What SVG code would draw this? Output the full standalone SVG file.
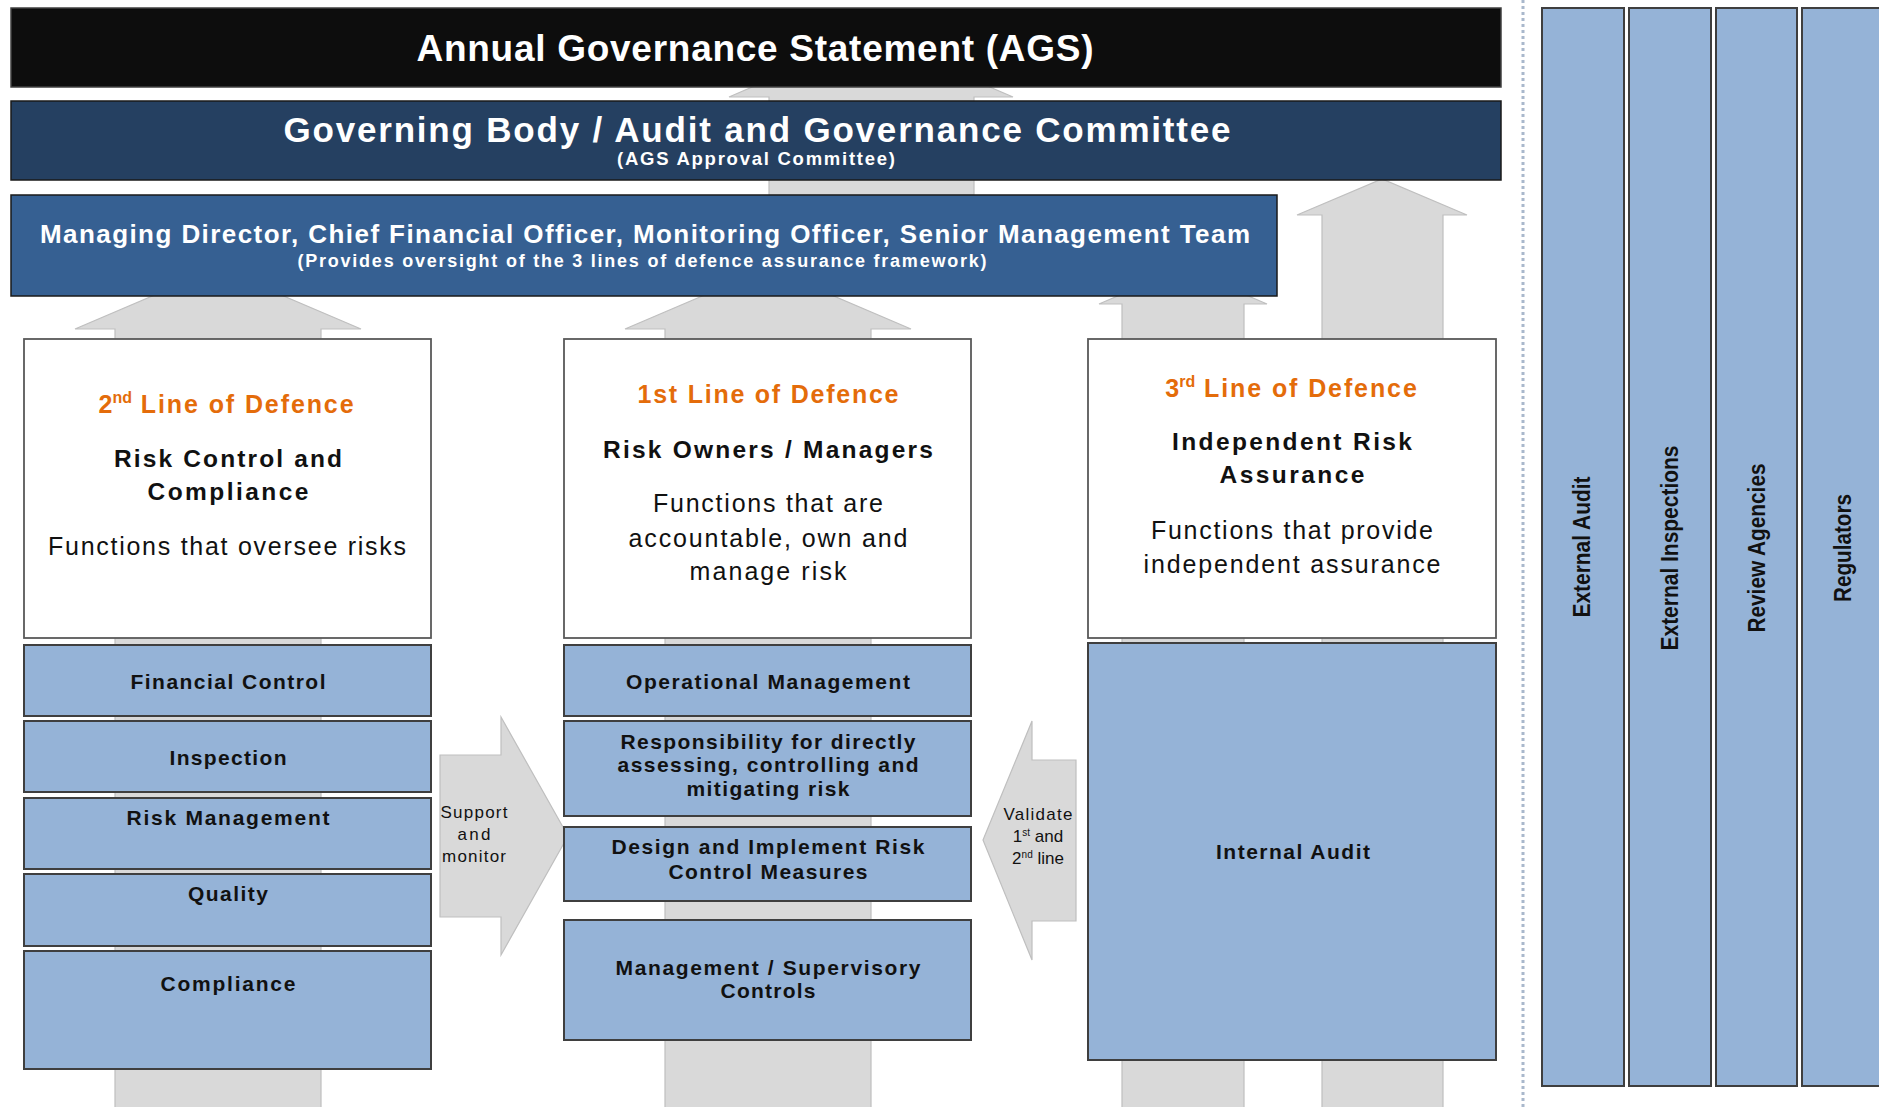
<svg xmlns="http://www.w3.org/2000/svg" width="1879" height="1107" viewBox="0 0 1879 1107">
<style>
text{font-family:"Liberation Sans",Arial,sans-serif;}
.arrow{fill:#d9d9d9;stroke:#bfbfbf;stroke-width:1.2;}
.blue{fill:#95b3d7;stroke:#3f3f3f;stroke-width:2;}
.white{fill:#ffffff;stroke:#595959;stroke-width:1.8;}
.bt{font-weight:bold;font-size:21px;fill:#111;text-anchor:middle;}
.org{font-weight:bold;font-size:25px;fill:#e46c0a;text-anchor:middle;}
.hd{font-weight:bold;font-size:24.5px;fill:#111;text-anchor:middle;}
.fn{font-size:25px;fill:#111;text-anchor:middle;}
.sm{font-size:17px;fill:#111;text-anchor:middle;}
.vt{font-weight:bold;font-size:23px;fill:#111;text-anchor:middle;}
.wt{font-weight:bold;fill:#fff;text-anchor:middle;}
</style>
<rect width="1879" height="1107" fill="#ffffff"/>
<g id="connectors">
<path class="arrow" d="M729,97 L871,36 L1013,97 L974,97 L974,195 L769,195 L769,97 Z"/>
<path class="arrow" d="M75,329 L218,268 L361,329 L321,329 L321,1108 L115,1108 L115,329 Z"/>
<path class="arrow" d="M625,329 L768,268 L911,329 L871,329 L871,1108 L665,1108 L665,329 Z"/>
<path class="arrow" d="M1099,304 L1183,268 L1267,304 L1244,304 L1244,1108 L1122,1108 L1122,304 Z"/>
<path class="arrow" d="M1297,215 L1382,179 L1467,215 L1443,215 L1443,1108 L1322,1108 L1322,215 Z"/>
<path class="arrow" d="M440,755 L501,755 L501,717 L568,836 L501,955 L501,917 L440,917 Z"/>
<path class="arrow" d="M1076,760 L1032,760 L1032,721 L983,840 L1032,960 L1032,921 L1076,921 Z"/>
<text class="sm" x="474" y="818" textLength="67">Support</text>
<text class="sm" x="474" y="840" textLength="33">and</text>
<text class="sm" x="474" y="862" textLength="64">monitor</text>
<text class="sm" x="1038" y="820" textLength="69">Validate</text>
<text class="sm" x="1038" y="842">1<tspan font-size="10" dy="-6">st</tspan><tspan dy="6"> and</tspan></text>
<text class="sm" x="1038" y="864">2<tspan font-size="10" dy="-6">nd</tspan><tspan dy="6"> line</tspan></text>
</g>
<line x1="1523" y1="0" x2="1523" y2="1107" stroke="#a9b8cc" stroke-width="3" stroke-dasharray="3 3"/>
<g id="ags">
<rect x="11" y="8" width="1490" height="79" fill="#0d0d0d" stroke="#404040" stroke-width="1.5"/>
<text class="wt" x="755" y="61" font-size="37" textLength="677">Annual Governance Statement (AGS)</text>
</g>
<g id="governing-body">
<rect x="11" y="101" width="1490" height="79" fill="#254061" stroke="#1a1a1a" stroke-width="1.5"/>
<text class="wt" x="757" y="142" font-size="35" textLength="947">Governing Body / Audit and Governance Committee</text>
<text class="wt" x="756" y="165" font-size="18.5" textLength="278">(AGS Approval Committee)</text>
</g>
<g id="management-team">
<rect x="11" y="195" width="1266" height="101" fill="#366092" stroke="#1a1a1a" stroke-width="1.5"/>
<text class="wt" x="645" y="243" font-size="26" textLength="1210">Managing Director, Chief Financial Officer, Monitoring Officer, Senior Management Team</text>
<text class="wt" x="642" y="267" font-size="18" textLength="689">(Provides oversight of the 3 lines of defence assurance framework)</text>
</g>
<g id="second-line">
<rect class="white" x="24" y="339" width="407" height="299"/>
<text class="org" x="227" y="413">2<tspan font-size="16" dy="-10">nd</tspan><tspan dy="10" letter-spacing="1.9"> Line of Defence</tspan></text>
<text class="hd" x="228" y="467" textLength="228">Risk Control and</text>
<text class="hd" x="228" y="500" textLength="161">Compliance</text>
<text class="fn" x="227" y="555" textLength="358">Functions that oversee risks</text>
</g>
<g id="financial-control"><rect class="blue" x="24" y="645" width="407" height="71"/><text class="bt" x="228" y="689" textLength="195">Financial Control</text></g>
<g id="inspection"><rect class="blue" x="24" y="721" width="407" height="71"/><text class="bt" x="228" y="765" textLength="117">Inspection</text></g>
<g id="risk-management"><rect class="blue" x="24" y="798" width="407" height="71"/><text class="bt" x="228" y="825" textLength="203">Risk Management</text></g>
<g id="quality"><rect class="blue" x="24" y="874" width="407" height="72"/><text class="bt" x="228" y="901" textLength="80">Quality</text></g>
<g id="compliance"><rect class="blue" x="24" y="951" width="407" height="118"/><text class="bt" x="228" y="991" textLength="135">Compliance</text></g>
<g id="first-line">
<rect class="white" x="564" y="339" width="407" height="299"/>
<text class="org" x="768" y="403" textLength="261">1st Line of Defence</text>
<text class="hd" x="768" y="458" textLength="330">Risk Owners / Managers</text>
<text class="fn" x="768" y="512" textLength="230">Functions that are</text>
<text class="fn" x="768" y="547" textLength="279">accountable, own and</text>
<text class="fn" x="768" y="580" textLength="157">manage risk</text>
</g>
<g id="operational-management"><rect class="blue" x="564" y="645" width="407" height="71"/><text class="bt" x="768" y="689" textLength="284">Operational Management</text></g>
<g id="responsibility"><rect class="blue" x="564" y="721" width="407" height="95"/>
<text class="bt" x="768" y="749" textLength="295">Responsibility for directly</text>
<text class="bt" x="768" y="772" textLength="301">assessing, controlling and</text>
<text class="bt" x="768" y="796" textLength="163">mitigating risk</text></g>
<g id="design-implement"><rect class="blue" x="564" y="827" width="407" height="74"/>
<text class="bt" x="768" y="854" textLength="313">Design and Implement Risk</text>
<text class="bt" x="768" y="879" textLength="199">Control Measures</text></g>
<g id="supervisory-controls"><rect class="blue" x="564" y="920" width="407" height="120"/>
<text class="bt" x="768" y="975" textLength="305">Management / Supervisory</text>
<text class="bt" x="768" y="998" textLength="95">Controls</text></g>
<g id="third-line">
<rect class="white" x="1088" y="339" width="408" height="299"/>
<text class="org" x="1292" y="397">3<tspan font-size="16" dy="-10">rd</tspan><tspan dy="10" letter-spacing="1.9"> Line of Defence</tspan></text>
<text class="hd" x="1292" y="450" textLength="240">Independent Risk</text>
<text class="hd" x="1292" y="483" textLength="145">Assurance</text>
<text class="fn" x="1292" y="539" textLength="282">Functions that provide</text>
<text class="fn" x="1292" y="573" textLength="297">independent assurance</text>
</g>
<g id="internal-audit"><rect class="blue" x="1088" y="643" width="408" height="417"/><text class="bt" x="1293" y="859" textLength="154">Internal Audit</text></g>
<g id="external-audit"><rect class="blue" x="1542" y="8" width="82" height="1078"/><text class="vt" transform="translate(1582,547) rotate(-90)" x="0" y="8" textLength="141" lengthAdjust="spacingAndGlyphs">External Audit</text></g>
<g id="external-inspections"><rect class="blue" x="1629" y="8" width="82" height="1078"/><text class="vt" transform="translate(1670,548) rotate(-90)" x="0" y="8" textLength="205" lengthAdjust="spacingAndGlyphs">External Inspections</text></g>
<g id="review-agencies"><rect class="blue" x="1716" y="8" width="81" height="1078"/><text class="vt" transform="translate(1757,548) rotate(-90)" x="0" y="8" textLength="169" lengthAdjust="spacingAndGlyphs">Review Agencies</text></g>
<g id="regulators"><rect class="blue" x="1802" y="8" width="90" height="1078"/><text class="vt" transform="translate(1843,548) rotate(-90)" x="0" y="8" textLength="108" lengthAdjust="spacingAndGlyphs">Regulators</text></g>
</svg>
